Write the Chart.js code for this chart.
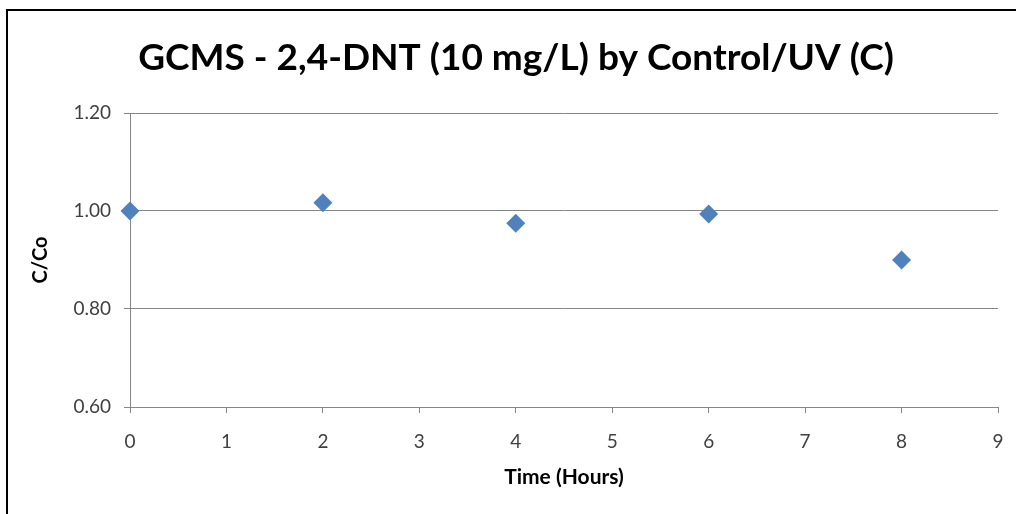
<!DOCTYPE html>
<html>
<head>
<meta charset="utf-8">
<script src="https://cdn.jsdelivr.net/npm/chart.js@4/dist/chart.umd.min.js"></script>
<style>
  body { margin: 0; background: #fff; }
  #wrap { position: relative; width: 1016px; height: 514px; overflow: hidden; }
  #frame { position: absolute; left: 6px; top: 9px; width: 1100px; height: 600px;
           border-left: 2px solid #000; border-top: 2px solid #000; }
  #graphique { position: absolute; left: 0; top: 0; }
</style>
</head>
<body>
<div id="wrap">
  <div id="frame"></div>
  <canvas id="graphique" width="1016" height="514"></canvas>
</div>
<script>
// donnees
var titre = 'GCMS - 2,4-DNT (10 mg/L) by Control/UV (C)';
var heures = [0, 2, 4, 6, 8];
var ratioCCo = [1.00, 1.017, 0.975, 0.994, 0.90];
var ticksX = [0, 1, 2, 3, 4, 5, 6, 7, 8, 9];
var ticksY = [0.60, 0.80, 1.00, 1.20];

var points = heures.map(function(h, i) { return { x: h, y: ratioCCo[i] }; });

var gris = '#868686';
var texte = '#404040';
var police = 'Lato, "Open Sans", sans-serif';

var ctx = document.getElementById('graphique').getContext('2d');
var graphique = new Chart(ctx, {
    type: 'scatter',
    data: {
        datasets: [{
            label: 'C/Co',
            data: points,
            pointStyle: 'rectRot',
            pointRadius: 9.5,
            pointHoverRadius: 9.5,
            backgroundColor: '#4F81BD',
            borderColor: '#4F81BD',
            borderWidth: 0,
            showLine: false,
            clip: false // le losange a x=0 depasse sur l'axe
        }]
    },
    options: {
        responsive: false,
        animation: false,
        devicePixelRatio: 1,
        // padding gauche pour centrer le titre sur ~516px
        layout: { autoPadding: false, padding: { left: 34, right: 18, top: 0, bottom: 0 } },
        plugins: {
            legend: { display: false },
            tooltip: { enabled: false },
            title: {
                display: true,
                text: titre,
                color: '#000',
                font: { family: police, size: 37, weight: 'bold', lineHeight: 1.2 },
                padding: { top: 36, bottom: 32.6 }
            }
        },
        scales: {
            x: {
                type: 'linear',
                min: 0,
                max: 9,
                afterBuildTicks: function(axis) {
                    axis.ticks = ticksX.map(function(v) { return { value: v }; });
                },
                afterFit: function(axis) {
                    axis.height = 107;
                    // pas de marge auto pour le dernier label
                    axis.paddingLeft = 0;
                    axis.paddingRight = 0;
                },
                grid: { drawOnChartArea: false, drawTicks: true, tickLength: 6, color: gris, lineWidth: 1 },
                border: { color: gris, width: 1 },
                ticks: {
                    color: texte,
                    padding: 17,
                    font: { family: police, size: 19 },
                    maxRotation: 0
                },
                title: {
                    display: true,
                    text: 'Time (Hours)',
                    color: '#000',
                    font: { family: police, size: 21, weight: 'bold', lineHeight: 1.2 },
                    padding: { top: 0, bottom: 24 }
                }
            },
            y: {
                type: 'linear',
                min: 0.6,
                max: 1.2,
                afterBuildTicks: function(axis) {
                    axis.ticks = ticksY.map(function(v) { return { value: v }; });
                },
                afterFit: function(axis) { axis.width = 96; },
                grid: { drawOnChartArea: true, drawTicks: true, tickLength: 6, color: gris, lineWidth: 1 },
                border: { color: gris, width: 1 },
                ticks: {
                    color: texte,
                    padding: 13,
                    font: { family: police, size: 19 },
                    callback: function(v) { return v.toFixed(2); }
                },
                title: {
                    display: true,
                    text: 'C/Co',
                    color: '#000',
                    font: { family: police, size: 20, weight: 'bold', lineHeight: 1 },
                    padding: { top: -3, bottom: 0 }
                }
            }
        }
    }
});
</script>
</body>
</html>
